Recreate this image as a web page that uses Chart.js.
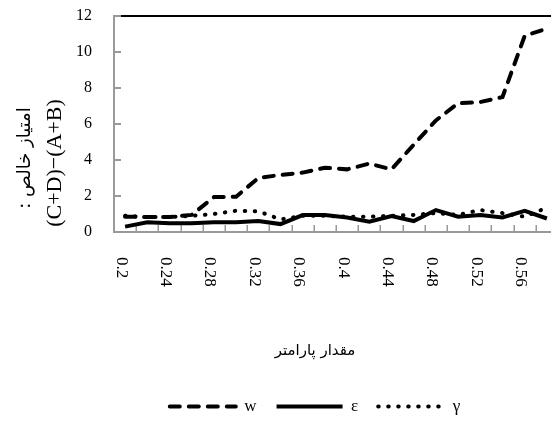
<!DOCTYPE html>
<html>
<head>
<meta charset="utf-8">
<script src="https://cdn.jsdelivr.net/npm/chart.js@4"></script>
<style>
  html, body { margin: 0; padding: 0; background: #fff; overflow: hidden; }
  canvas { display: block; }
</style>
</head>
<body>
<canvas id="chart" width="630" height="425"></canvas>
<script>
// categories (parameter value) and series
const categories = ['0.2', '0.22', '0.24', '0.26', '0.28', '0.3', '0.32', '0.34', '0.36', '0.38',
                    '0.4', '0.42', '0.44', '0.46', '0.48', '0.5', '0.52', '0.54', '0.56', '0.58'];
const wValues = [0.85, 0.83, 0.83, 0.95, 1.94, 1.96, 3.0, 3.17, 3.3, 3.57,
                 3.48, 3.8, 3.48, 4.85, 6.2, 7.15, 7.22, 7.5, 10.9, 11.3];
const epsValues = [0.3, 0.54, 0.48, 0.48, 0.54, 0.54, 0.61, 0.44, 0.94, 0.94,
                   0.81, 0.57, 0.89, 0.61, 1.22, 0.85, 0.94, 0.81, 1.18, 0.75];
const gammaValues = [0.9, 0.83, 0.83, 0.9, 1.0, 1.18, 1.15, 0.7, 0.9, 0.9,
                     0.85, 0.85, 0.9, 0.95, 1.05, 0.95, 1.22, 1.05, 0.85, 1.35];
const seriesNames = ['w', 'ε', 'γ'];
const yTitleLines = ['امتیاز خالص :', '(C+D)−(A+B)'];
const xTitle = 'مقدار پارامتر';

const axisGray = '#999999';

const extras = {
  id: 'extras',
  beforeDatasetsDraw(chart) {
    const { ctx, chartArea: a, scales: { x, y } } = chart;
    ctx.save();
    ctx.strokeStyle = axisGray;
    // inward tick marks on the value axis
    ctx.lineWidth = 2;
    y.ticks.forEach((t, i) => {
      if (t.value === 0) return;
      const py = y.getPixelForTick(i);
      ctx.beginPath();
      ctx.moveTo(a.left, py);
      ctx.lineTo(a.left + 7, py);
      ctx.stroke();
    });
    // inward tick marks between categories
    ctx.lineWidth = 1.5;
    for (let i = 1; i < categories.length; i++) {
      const px = Math.round(x.getPixelForValue(i - 0.5)) + 0.25;
      ctx.beginPath();
      ctx.moveTo(px, a.bottom);
      ctx.lineTo(px, a.bottom - 7);
      ctx.stroke();
    }
    ctx.restore();
  },
  afterDraw(chart) {
    const { ctx, chartArea: a, scales: { x } } = chart;
    ctx.save();
    ctx.fillStyle = '#000';
    // rotated category labels, every second one
    ctx.font = '17px "Liberation Serif"';
    ctx.textAlign = 'left';
    ctx.textBaseline = 'middle';
    for (let i = 0; i < categories.length; i += 2) {
      ctx.save();
      ctx.translate(x.getPixelForValue(i) - 4, a.bottom + 25);
      ctx.rotate(Math.PI / 2);
      ctx.fillText(categories[i], 0, 0);
      ctx.restore();
    }
    // value axis title, two lines
    ctx.textAlign = 'center';
    ctx.save();
    ctx.translate(25, 158);
    ctx.rotate(-Math.PI / 2);
    ctx.direction = 'rtl';
    ctx.font = '18px "DejaVu Sans"';
    ctx.fillText(yTitleLines[0], 0, 0);
    ctx.restore();
    ctx.save();
    ctx.translate(55, 163);
    ctx.rotate(-Math.PI / 2);
    ctx.font = '22px "Liberation Serif"';
    ctx.fillText(yTitleLines[1], 0, 0);
    ctx.restore();
    ctx.restore();
  }
};

new Chart(document.getElementById('chart'), {
  type: 'line',
  data: {
    labels: categories,
    datasets: [
      {
        label: seriesNames[0],
        data: wValues,
        borderColor: '#000',
        borderWidth: 4,
        borderDash: [10, 9],
        borderCapStyle: 'round',
        pointRadius: 0,
        tension: 0
      },
      {
        label: seriesNames[1],
        data: epsValues,
        borderColor: '#000',
        borderWidth: 4,
        pointRadius: 0,
        tension: 0
      },
      {
        label: seriesNames[2],
        data: gammaValues,
        borderColor: '#000',
        borderWidth: 4,
        borderDash: [0.5, 9.5],
        borderCapStyle: 'round',
        pointRadius: 0,
        tension: 0
      }
    ]
  },
  options: {
    responsive: false,
    animation: false,
    layout: { padding: { top: 16, left: 0, right: 0, bottom: 0 } },
    scales: {
      x: {
        type: 'category',
        offset: true,
        grid: { display: false },
        border: { color: axisGray, width: 2 },
        ticks: { display: false },
        afterFit(scale) { scale.height = 90; }
      },
      y: {
        min: 0,
        max: 12,
        ticks: {
          stepSize: 2,
          padding: 0,
          color: '#000',
          font: { family: 'Liberation Serif', size: 16 }
        },
        grid: {
          drawTicks: true,
          tickLength: 22,
          tickColor: 'rgba(0,0,0,0)',
          lineWidth: 2,
          color: (c) => (c.tick && c.tick.value === 12 ? '#000' : 'rgba(0,0,0,0)')
        },
        border: { color: axisGray, width: 2 },
        afterFit(scale) { scale.width = 114; }
      },
      yRight: {
        type: 'linear',
        position: 'right',
        grid: { display: false },
        border: { display: false },
        ticks: { display: false },
        afterFit(scale) { scale.width = 72; }
      }
    },
    plugins: {
      title: {
        display: true,
        position: 'bottom',
        text: xTitle,
        color: '#000',
        weight: 500,
        font: { family: 'DejaVu Sans', size: 15, weight: 'normal' },
        padding: { top: 20, bottom: 18 }
      },
      legend: {
        position: 'bottom',
        labels: {
          usePointStyle: true,
          pointStyle: 'line',
          pointStyleWidth: 66,
          padding: 20,
          color: '#000',
          font: { family: 'Liberation Serif', size: 17 },
          generateLabels(chart) {
            const items = Chart.defaults.plugins.legend.labels.generateLabels(chart);
            items.forEach((it) => {
              const ds = chart.data.datasets[it.datasetIndex];
              it.pointStyle = 'line';
              it.lineWidth = ds.borderWidth;
              it.lineDash = ds.borderDash || [];
              it.lineCap = ds.borderCapStyle || 'butt';
              it.strokeStyle = ds.borderColor;
            });
            return items;
          }
        }
      },
      tooltip: { enabled: false }
    }
  },
  plugins: [extras]
});
</script>
</body>
</html>
